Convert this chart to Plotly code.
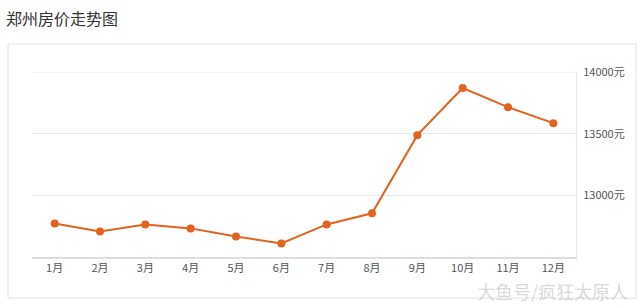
import plotly.graph_objects as go

months = ["1月", "2月", "3月", "4月", "5月", "6月", "7月", "8月", "9月", "10月", "11月", "12月"]
prices = [12772, 12707, 12764, 12732, 12667, 12610, 12764, 12854, 13488, 13870, 13715, 13585]
tick_vals = [13000, 13500, 14000]
tick_text = ["13000元", "13500元", "14000元"]
title_text = "郑州房价走势图"
watermark = "大鱼号/疯狂太原人"

fig = go.Figure()
fig.add_trace(go.Scatter(
    x=months, y=prices, mode="lines+markers",
    line=dict(color="#e2621f", width=2),
    marker=dict(color="#e2621f", size=8),
    hoverinfo="x+y",
))

font = "Noto Sans CJK SC, Noto Sans, sans-serif"
fig.update_layout(
    width=640, height=308,
    margin=dict(l=32, r=64, t=72, b=51),
    paper_bgcolor="white", plot_bgcolor="white",
    showlegend=False,
    font=dict(family=font, size=11, color="#555555"),
    xaxis=dict(
        type="category", showgrid=False, zeroline=False,
        showline=True, linecolor="#dddddd", linewidth=2,
        ticks="", tickfont=dict(size=11, color="#555555"),
        range=[-0.5, 11.5], fixedrange=True,
    ),
    yaxis=dict(
        side="right", range=[12500, 14000],
        tickvals=tick_vals, ticktext=tick_text,
        showgrid=True, gridcolor="#e6e6e6", gridwidth=1,
        zeroline=False, showline=True, linecolor="#e6e6e6", linewidth=1,
        mirror=False, ticks="", ticklabelstandoff=4,
        tickfont=dict(size=11, color="#555555"), fixedrange=True,
    ),
    shapes=[
        dict(type="rect", xref="paper", yref="paper",
             x0=-24/544, x1=(636-32)/544, y0=-(298-257)/185, y1=(257-44)/185,
             line=dict(color="#e2e2e2", width=1), fillcolor="rgba(0,0,0,0)", layer="below"),
        dict(type="line", xref="paper", yref="y", x0=0, x1=1, y0=tick_vals[-1], y1=tick_vals[-1],
             line=dict(color="#e6e6e6", width=1), layer="below"),
    ],
    annotations=[
        dict(text=title_text, xref="paper", yref="paper",
             x=-28/544, y=(257 - 18) / 185, xanchor="left", yanchor="middle",
             showarrow=False, font=dict(size=16, color="#333333", family=font)),
        dict(text=watermark, xref="paper", yref="paper",
             x=(630-32)/544, y=-(291-257)/185, xanchor="right", yanchor="middle",
             showarrow=False, font=dict(size=18, color="rgba(170,170,170,0.45)", family=font)),
    ],
)

fig.write_html("out.html")
